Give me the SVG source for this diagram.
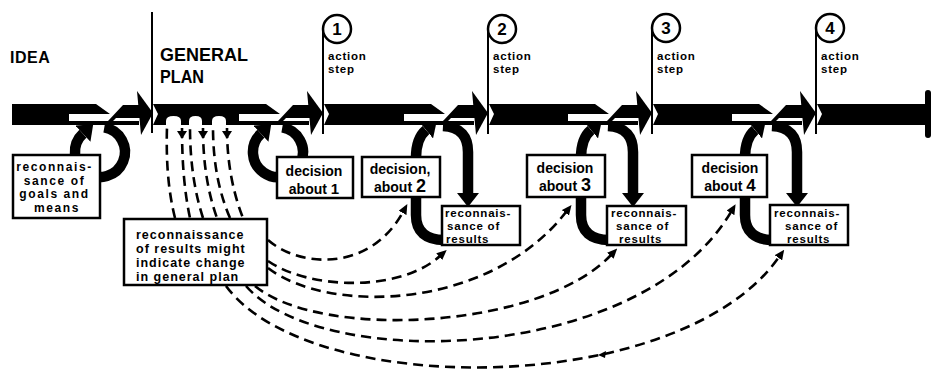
<svg xmlns="http://www.w3.org/2000/svg" width="932" height="370" viewBox="0 0 932 370">
<defs>
<style>
.t{font-family:"Liberation Sans",Arial,sans-serif;font-weight:bold;fill:#000}
.box{fill:#fff;stroke:#000;stroke-width:2.5}
.loop{fill:none;stroke:#000;stroke-width:10.5}
.dash{fill:none;stroke:#000;stroke-width:2.6;stroke-dasharray:10 6}
.vline{stroke:#000;stroke-width:2;fill:none}
.band{fill:#000}
.circ{fill:#fff;stroke:#000;stroke-width:2.5}
.act{font-size:11.5px;letter-spacing:0.8px}
.rec{font-size:11.5px;letter-spacing:0.8px}
</style>
<marker id="thick" viewBox="0 0 14 22" refX="0" refY="11" markerWidth="14" markerHeight="22" markerUnits="userSpaceOnUse" orient="auto">
<path d="M0,0 L14,11 L0,22 z" fill="#000"/>
</marker>
<marker id="small" viewBox="0 0 10 9" refX="1" refY="4.5" markerWidth="10" markerHeight="9" markerUnits="userSpaceOnUse" orient="auto">
<path d="M0,0 L10,4.5 L0,9 z" fill="#000"/>
</marker>
</defs>
<rect width="932" height="370" fill="#fff"/>

<g id="headings">
<text class="t" x="10" y="63" font-size="16" letter-spacing="0.5">IDEA</text>
<text class="t" x="160" y="61" font-size="18.5" textLength="88" lengthAdjust="spacingAndGlyphs">GENERAL</text>
<text class="t" x="160" y="83" font-size="18.5" textLength="44" lengthAdjust="spacingAndGlyphs">PLAN</text>
<line class="vline" x1="152" y1="12" x2="152" y2="133"/>
</g>

<g id="step1">
<line class="vline" x1="323" y1="30" x2="323" y2="134"/>
<circle class="circ" cx="337" cy="29" r="14"/>
<text class="t" x="337" y="35" font-size="17" text-anchor="middle">1</text>
<text class="t act" x="328" y="60">action</text>
<text class="t act" x="328" y="73">step</text>
</g>
<g id="step2">
<line class="vline" x1="488" y1="30" x2="488" y2="134"/>
<circle class="circ" cx="502" cy="29" r="14"/>
<text class="t" x="502" y="35" font-size="17" text-anchor="middle">2</text>
<text class="t act" x="493" y="60">action</text>
<text class="t act" x="493" y="73">step</text>
</g>
<g id="step3">
<line class="vline" x1="652" y1="29" x2="652" y2="134"/>
<circle class="circ" cx="666" cy="28" r="14"/>
<text class="t" x="666" y="34" font-size="17" text-anchor="middle">3</text>
<text class="t act" x="657" y="60">action</text>
<text class="t act" x="657" y="73">step</text>
</g>
<g id="step4">
<line class="vline" x1="816" y1="29" x2="816" y2="134"/>
<circle class="circ" cx="830" cy="28" r="14"/>
<text class="t" x="830" y="34" font-size="17" text-anchor="middle">4</text>
<text class="t act" x="821" y="60">action</text>
<text class="t act" x="821" y="73">step</text>
</g>

<g id="band">
<polygon class="band" points="12,104 96,104 110,114 69,114 69,121 139,121 139,125 12,125"/>
<polygon class="band" points="108,121 123,105 141,105 141,118 116,118 113,121"/>
<polygon class="band" points="137,91 153,113 141,135"/>

<polygon class="band" points="153,104 266,104 280,114 239,114 239,121 309,121 309,125 153,125 158,114"/>
<polygon class="band" points="278,121 293,105 311,105 311,118 286,118 283,121"/>
<polygon class="band" points="307,91 323,113 311,135"/>

<polygon class="band" points="324,104 431,104 445,114 404,114 404,121 474,121 474,125 324,125 329,114"/>
<polygon class="band" points="443,121 458,105 476,105 476,118 451,118 448,121"/>
<polygon class="band" points="472,91 488,113 476,135"/>

<polygon class="band" points="489,104 595,104 609,114 568,114 568,121 638,121 638,125 489,125 494,114"/>
<polygon class="band" points="607,121 622,105 640,105 640,118 615,118 612,121"/>
<polygon class="band" points="636,91 652,113 640,135"/>

<polygon class="band" points="653,104 759,104 773,114 732,114 732,121 802,121 802,125 653,125 658,114"/>
<polygon class="band" points="771,121 786,105 804,105 804,118 779,118 776,121"/>
<polygon class="band" points="800,91 816,113 804,135"/>

<polygon class="band" points="817,104 927,104 927,125 817,125 822,114"/>
<rect class="band" x="925" y="90" width="6" height="48" rx="3"/>

<path d="M166,126 L166,121 Q166,116 173.5,116 Q181,116 181,121 L181,126 Z" fill="#fff"/>
<path d="M189,126 L189,121 Q189,116 195.5,116 Q202,116 202,121 L202,126 Z" fill="#fff"/>
<path d="M212,126 L212,121 Q212,116 219,116 Q226,116 226,121 L226,126 Z" fill="#fff"/>
</g>

<g id="connectors">
<path class="loop" d="M104.3,127.4 A25,25 0 1 1 82.95,133.7" marker-end="url(#thick)"/>
<path class="loop" d="M282.3,127.4 A25,25 0 1 1 260.95,133.7" marker-end="url(#thick)"/>

<path class="loop" d="M443,126 C461,127 468,137 468,152 L468,193" marker-end="url(#thick)"/>
<path class="loop" d="M444,240 C426,240 416,232 416,215 L416,158 C416,143 420,135 426,130" marker-end="url(#thick)"/>
<path class="loop" d="M608,126 C626,127 633,137 633,152 L633,193" marker-end="url(#thick)"/>
<path class="loop" d="M609,240 C591,240 581,232 581,215 L581,158 C581,143 585,135 591,130" marker-end="url(#thick)"/>
<path class="loop" d="M772,126 C790,127 797,137 797,152 L797,193" marker-end="url(#thick)"/>
<path class="loop" d="M773,240 C755,240 745,232 745,215 L745,158 C745,143 749,135 755,130" marker-end="url(#thick)"/>

<path class="dash" d="M175,218 C168,190 166,160 167,127"/>
<path class="dash" d="M182,128 C182,160 184,190 190,218"/>
<path class="dash" d="M203,218 C194,190 190,160 190,127"/>
<path class="dash" d="M203,128 C203,160 207,190 217,218"/>
<path class="dash" d="M230,218 C218,190 213,160 213,127"/>
<path class="dash" d="M227,128 C227,160 232,190 243,218"/>
<polygon points="177,131 187,131 182,139" fill="#000"/>
<polygon points="198,131 208,131 203,139" fill="#000"/>
<polygon points="222,131 232,131 227,139" fill="#000"/>

<path class="dash" d="M268,240 C300,268 370,272 403,212" marker-end="url(#small)"/>
<path class="dash" d="M268,261 C310,290 400,292 440,256" marker-end="url(#small)"/>
<path class="dash" d="M268,268 C330,315 490,310 566,212" marker-end="url(#small)"/>
<path class="dash" d="M255,286 C320,340 540,330 611,255" marker-end="url(#small)"/>
<path class="dash" d="M246,286 C320,372 640,365 731,212" marker-end="url(#small)"/>
<path class="dash" d="M226,286 C310,400 680,398 779,257" marker-end="url(#small)"/>
<polygon points="598,355 606,351 605,358" fill="#000"/>
</g>

<g id="goals">
<rect class="box" x="13" y="155" width="87" height="63"/>
<text class="t" font-size="12" letter-spacing="1.6" text-anchor="middle">
<tspan x="57" y="171">reconnais-</tspan>
<tspan x="57" y="184.5">sance of</tspan>
<tspan x="57" y="198">goals and</tspan>
<tspan x="57" y="211.5">means</tspan>
</text>
</g>

<g id="plan-box">
<rect class="box" x="124" y="219" width="143" height="66"/>
<text class="t" font-size="12.5" letter-spacing="1">
<tspan x="136" y="239">reconnaissance</tspan>
<tspan x="136" y="253">of results might</tspan>
<tspan x="136" y="267">indicate change</tspan>
<tspan x="136" y="281">in general plan</tspan>
</text>
</g>

<g id="decision1">
<rect class="box" x="277" y="157" width="76" height="41"/>
<text class="t" font-size="14" text-anchor="middle"><tspan x="314" y="176">decision</tspan><tspan x="314" y="194">about <tspan font-size="15">1</tspan></tspan></text>
</g>
<g id="decision2">
<rect class="box" x="362" y="157" width="78" height="40"/>
<text class="t" font-size="14" text-anchor="middle"><tspan x="400" y="174">decision,</tspan><tspan x="400" y="192">about <tspan font-size="18">2</tspan></tspan></text>
</g>
<g id="decision3">
<rect class="box" x="527" y="155" width="78" height="42"/>
<text class="t" font-size="14" text-anchor="middle"><tspan x="565" y="173">decision</tspan><tspan x="565" y="191">about <tspan font-size="18">3</tspan></tspan></text>
</g>
<g id="decision4">
<rect class="box" x="692" y="155" width="75" height="42"/>
<text class="t" font-size="14" text-anchor="middle"><tspan x="730" y="173">decision</tspan><tspan x="730" y="191">about <tspan font-size="17">4</tspan></tspan></text>
</g>

<g id="results2">
<rect class="box" x="442" y="206" width="78" height="39"/>
<text class="t rec"><tspan x="445" y="217">reconnais-</tspan><tspan x="447" y="230">sance of</tspan><tspan x="446" y="243">results</tspan></text>
</g>
<g id="results3">
<rect class="box" x="607" y="206" width="79" height="39"/>
<text class="t rec"><tspan x="611" y="217">reconnais-</tspan><tspan x="616" y="230">sance of</tspan><tspan x="619" y="243">results</tspan></text>
</g>
<g id="results4">
<rect class="box" x="770" y="205" width="78" height="40"/>
<text class="t rec"><tspan x="774" y="217">reconnais-</tspan><tspan x="785" y="230">sance of</tspan><tspan x="787" y="243">results</tspan></text>
</g>
</svg>
